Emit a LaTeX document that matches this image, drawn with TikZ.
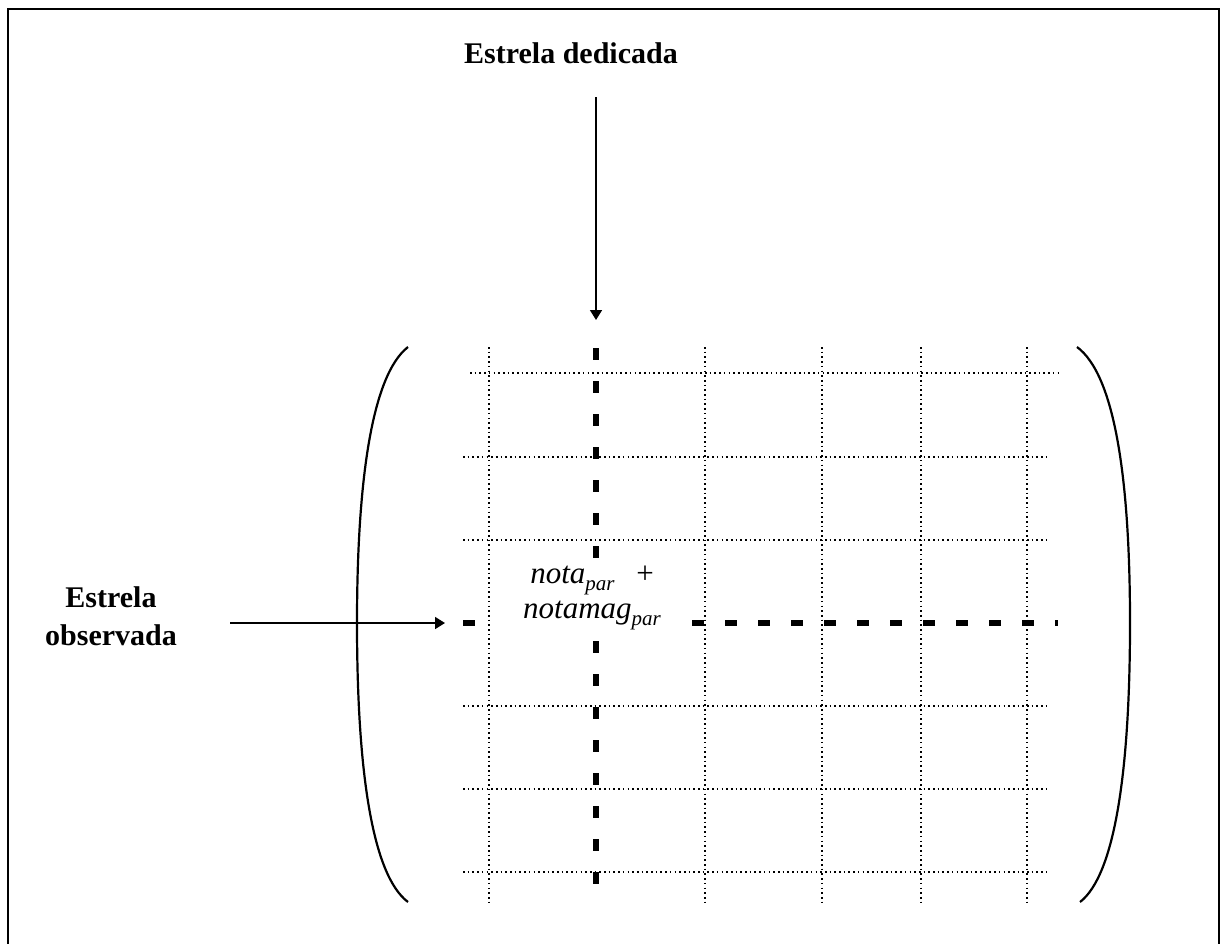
\documentclass[tikz,border=0pt]{standalone}
\usepackage{fontspec}
\setmainfont{Liberation Serif}
\usetikzlibrary{arrows.meta}
\newcommand\subtxt[1]{\raisebox{-0.2em}{\fontsize{21}{21}\selectfont\itshape #1}}
\begin{document}
\begin{tikzpicture}[x=1pt,y=-1pt,
 gridline/.style={line width=1.7pt, dash pattern=on 1.6pt off 3.1pt},
 thickdash/.style={line width=5.5pt, dash pattern=on 12pt off 21pt},
 arrowline/.style={line width=1.6pt, -{Triangle[length=10pt,width=12pt]}},
 bracket/.style={line width=2.2pt},
 frameline/.style={line width=2.2pt},
 bold/.style={font=\fontsize{30}{38}\selectfont\bfseries, inner sep=0pt},
 ital/.style={font=\fontsize{31}{35}\selectfont, inner sep=0pt},
 ]
\useasboundingbox (0,0) rectangle (1223,943);
\draw[frameline] (8,950) -- (8,9) -- (1219,9) -- (1219,950);

% grid
\foreach \x in {489,705,822,921,1027} \draw[gridline] (\x,347) -- (\x,902);
\draw[gridline] (470,373) -- (1060,373);
\foreach \y in {457,540,706,789,872} \draw[gridline] (463,\y) -- (1050,\y);

% thick dashed lines
\draw[thickdash] (596,348) -- (596,560);
\draw[thickdash] (596,641) -- (596,884);
\draw[thickdash] (463,623) -- (475,623);
\draw[thickdash] (692,623) -- (1058,623);

% brackets
\draw[bracket] (408,347) .. controls (372,375) and (357,480) .. (357,623) .. controls (357,770) and (372,875) .. (408,902);
\draw[bracket] (1077,347) .. controls (1115,375) and (1130,480) .. (1130,623) .. controls (1130,770) and (1115,875) .. (1080,902);

% labels
\node[bold, anchor=base] (ded) at (571,63) {Estrela dedicada};
\node[bold, align=center] (obs) at (111,616) {Estrela\\observada};
\node[ital, align=center] (txt) at (592,598) {\textit{nota}\subtxt{par}\hspace{0.7em}+\\\textit{notamag}\subtxt{par}};

% arrows
\coordinate (dtop) at (596,97);
\coordinate (dtip) at (596,320);
\draw[arrowline] (dtop) -- (dtip);
\coordinate (oL) at (230,623);
\coordinate (oTip) at (445,623);
\draw[arrowline] (oL) -- (oTip);
\end{tikzpicture}
\end{document}
